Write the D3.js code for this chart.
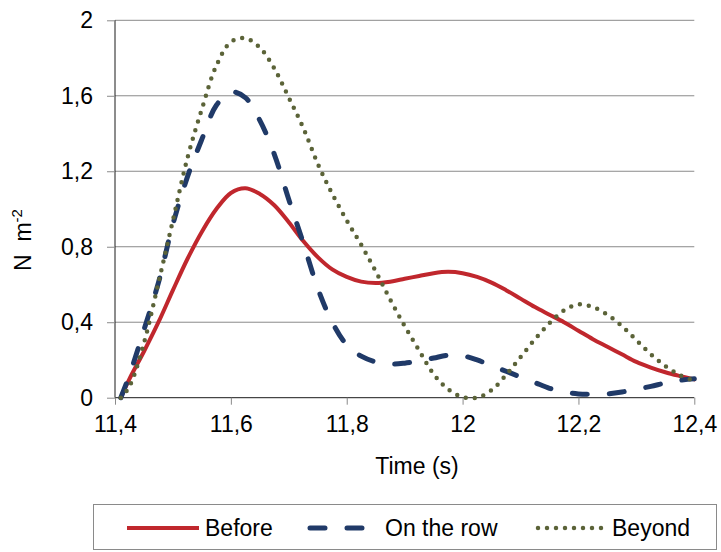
<!DOCTYPE html>
<html>
<head>
<meta charset="utf-8">
<script src="https://cdn.jsdelivr.net/npm/d3@7"></script>
<style>
  html, body { margin: 0; padding: 0; background: #fff; }
  svg { display: block; font-family: "Liberation Sans", Arial, sans-serif; }
</style>
</head>
<body>
<svg id="chart" width="721" height="552"></svg>
<script>
// ---- Data ----
const times = [11.41, 11.425, 11.45, 11.475, 11.5, 11.525, 11.55, 11.575, 11.6, 11.625, 11.65, 11.675, 11.7, 11.725, 11.75, 11.775, 11.8, 11.825, 11.85, 11.875, 11.9, 11.925, 11.95, 11.975, 12, 12.025, 12.05, 12.075, 12.1, 12.125, 12.15, 12.175, 12.2, 12.225, 12.25, 12.275, 12.3, 12.325, 12.35, 12.375, 12.4];
const before = [0, 0.1, 0.245, 0.40, 0.57, 0.735, 0.88, 1.0, 1.085, 1.11, 1.08, 1.02, 0.93, 0.83, 0.745, 0.68, 0.64, 0.615, 0.608, 0.615, 0.63, 0.645, 0.66, 0.667, 0.66, 0.64, 0.61, 0.57, 0.525, 0.48, 0.44, 0.40, 0.355, 0.31, 0.27, 0.23, 0.19, 0.16, 0.135, 0.115, 0.097];
const onTheRow = [0, 0.12, 0.36, 0.61, 0.92, 1.17, 1.37, 1.55, 1.62, 1.59, 1.47, 1.29, 1.05, 0.82, 0.58, 0.40, 0.28, 0.22, 0.19, 0.178, 0.183, 0.195, 0.21, 0.225, 0.222, 0.2, 0.17, 0.14, 0.11, 0.08, 0.05, 0.03, 0.02, 0.018, 0.02, 0.03, 0.045, 0.06, 0.078, 0.092, 0.1];
const beyond = [0, 0.06, 0.29, 0.61, 0.94, 1.27, 1.53, 1.76, 1.885, 1.905, 1.855, 1.745, 1.59, 1.43, 1.24, 1.08, 0.94, 0.81, 0.67, 0.52, 0.38, 0.25, 0.125, 0.045, 0.003, 0.0, 0.04, 0.12, 0.215, 0.31, 0.395, 0.462, 0.495, 0.48, 0.44, 0.38, 0.305, 0.23, 0.168, 0.12, 0.088];
const seriesNames = ["Before", "On the row", "Beyond"];
const xTicks = [11.4, 11.6, 11.8, 12, 12.2, 12.4];
const xTickLabels = ["11,4", "11,6", "11,8", "12", "12,2", "12,4"];
const yTicks = [0, 0.4, 0.8, 1.2, 1.6, 2];
const yTickLabels = ["0", "0,4", "0,8", "1,2", "1,6", "2"];

// ---- Layout ----
const svg = d3.select("#chart");
const x = d3.scaleLinear().domain([11.4, 12.4]).range([115, 694.3]);
const y = d3.scaleLinear().domain([0, 2]).range([397.7, 20.3]);
const fontSize = 23;

// gridlines
svg.append("g").selectAll("line").data(yTicks.filter(d => d > 0)).join("line")
  .attr("x1", x(11.4)).attr("x2", x(12.4))
  .attr("y1", d => y(d)).attr("y2", d => y(d))
  .attr("stroke", "#8a8a8a").attr("stroke-width", 1);

// y axis
const yAxis = d3.axisLeft(y).tickValues(yTicks)
  .tickFormat((d, i) => yTickLabels[i]).tickSize(8).tickPadding(14);
const gy = svg.append("g").attr("transform", `translate(${x(11.4)},0)`).call(yAxis);
gy.select(".domain").attr("stroke", "#1a1a1a").attr("d", `M0,${y(2)}V${y(0)}`);
gy.selectAll(".tick line").attr("stroke", "#8a8a8a");
gy.selectAll(".tick text").attr("font-size", fontSize).attr("fill", "#000")
  .attr("font-family", "Liberation Sans, Arial, sans-serif");

// x axis
const xAxis = d3.axisBottom(x).tickValues(xTicks)
  .tickFormat((d, i) => xTickLabels[i]).tickSize(7).tickPadding(11);
const gx = svg.append("g").attr("transform", `translate(0,${y(0)})`).call(xAxis);
gx.select(".domain").attr("stroke", "#1a1a1a").attr("d", `M${x(11.4)},0H${x(12.4)}`);
gx.selectAll(".tick line").attr("stroke", "#8a8a8a");
gx.selectAll(".tick text").attr("font-size", fontSize).attr("fill", "#000")
  .attr("font-family", "Liberation Sans, Arial, sans-serif");

// lines
const styles = [
  { data: before, color: "#c0272d", width: 4, dash: null },
  { data: onTheRow, color: "#203a68", width: 5, dash: "15,22" },
  { data: beyond, color: "#5b6338", width: 4.5, dash: "0,9" }
];
const line = d3.line().x(d => x(d[0])).y(d => y(d[1])).curve(d3.curveCatmullRom.alpha(0.5));
styles.forEach(s => {
  svg.append("path")
    .datum(times.map((t, k) => [t, s.data[k]]))
    .attr("d", line)
    .attr("fill", "none")
    .attr("stroke", s.color)
    .attr("stroke-width", s.width)
    .attr("stroke-linecap", "round")
    .attr("stroke-linejoin", "round")
    .attr("stroke-dasharray", s.dash);
});

// axis titles
svg.append("text").attr("x", 417).attr("y", 474).attr("text-anchor", "middle")
  .attr("font-size", fontSize).text("Time (s)");
const yt = svg.append("text").attr("transform", "translate(31,240) rotate(-90)")
  .attr("text-anchor", "middle").attr("font-size", fontSize);
yt.append("tspan").text("N\u00a0\u00a0m");
yt.append("tspan").attr("font-size", 15).attr("dy", -9).text("-2");

// legend
svg.append("rect").attr("x", 93.5).attr("y", 504.5).attr("width", 623).attr("height", 45)
  .attr("fill", "#fff").attr("stroke", "#8a8a8a").attr("stroke-width", 1);
const legY = 528;
const legendItems = [
  { sx1: 127, sx2: 199, tx: 205 },
  { sx1: 310, sx2: 366, tx: 385 },
  { sx1: 538, sx2: 605, tx: 612 }
];
legendItems.forEach((it, i) => {
  const s = styles[i];
  svg.append("line").attr("x1", it.sx1).attr("x2", it.sx2).attr("y1", legY).attr("y2", legY)
    .attr("stroke", s.color).attr("stroke-width", s.width)
    .attr("stroke-linecap", i === 0 ? "butt" : "round")
    .attr("stroke-dasharray", s.dash);
  svg.append("text").attr("x", it.tx).attr("y", legY + 8).attr("font-size", fontSize)
    .text(seriesNames[i]);
});
</script>
</body>
</html>
